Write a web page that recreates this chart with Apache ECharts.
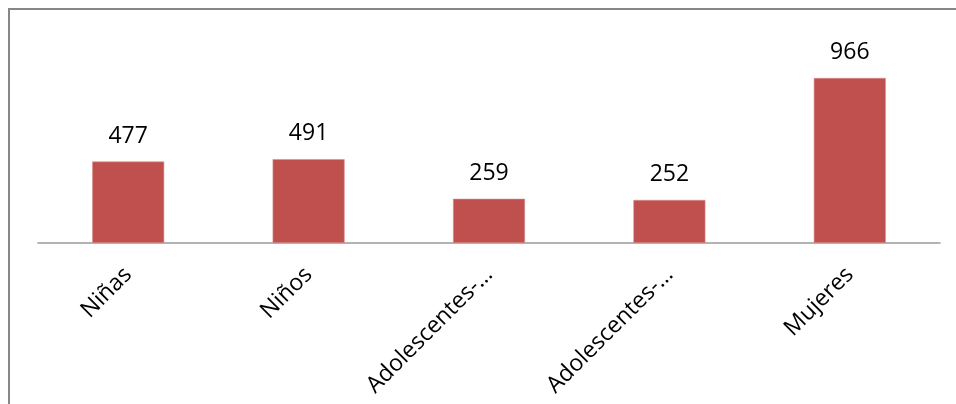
<!DOCTYPE html>
<html><head><meta charset="utf-8">
<script src="https://cdn.jsdelivr.net/npm/echarts@6/dist/echarts.min.js"></script>
<style>
html,body{margin:0;padding:0;background:#fff;}
#frame{position:absolute;left:8px;top:8px;width:960px;height:400px;border-left:2px solid #878787;border-top:2px solid #878787;}
#c{position:absolute;left:0;top:0;width:956px;height:404px;}
</style></head><body>
<div id="frame"></div>
<div id="c"></div>
<script>
const categories = ["Niñas", "Niños", "Adolescentes-…", "Adolescentes-…", "Mujeres"];
const values = [477, 491, 259, 252, 966];

const chart = echarts.init(document.getElementById('c'));
chart.setOption({
  animation: false,
  grid: {left: 38, right: 16, top: 38, bottom: 161},
  xAxis: {
    type: 'category', data: categories,
    axisLine: {lineStyle: {color: '#9a9a9a', width: 1.5}},
    axisTick: {show: false},
    axisLabel: {rotate: 45, margin: 28, color: '#000', fontSize: 23, fontFamily: 'Open Sans', interval: 0}
  },
  yAxis: {type: 'value', min: 0, max: 1200, show: false, splitLine: {show: false}},
  series: [{
    type: 'bar', data: values, barWidth: 72,
    itemStyle: {color: '#C0504D', borderColor: '#D8908E', borderWidth: 0.6},
    label: {show: true, position: 'top', distance: 14, color: '#000', fontSize: 23, fontFamily: 'Open Sans'}
  }]
});
</script></body></html>
